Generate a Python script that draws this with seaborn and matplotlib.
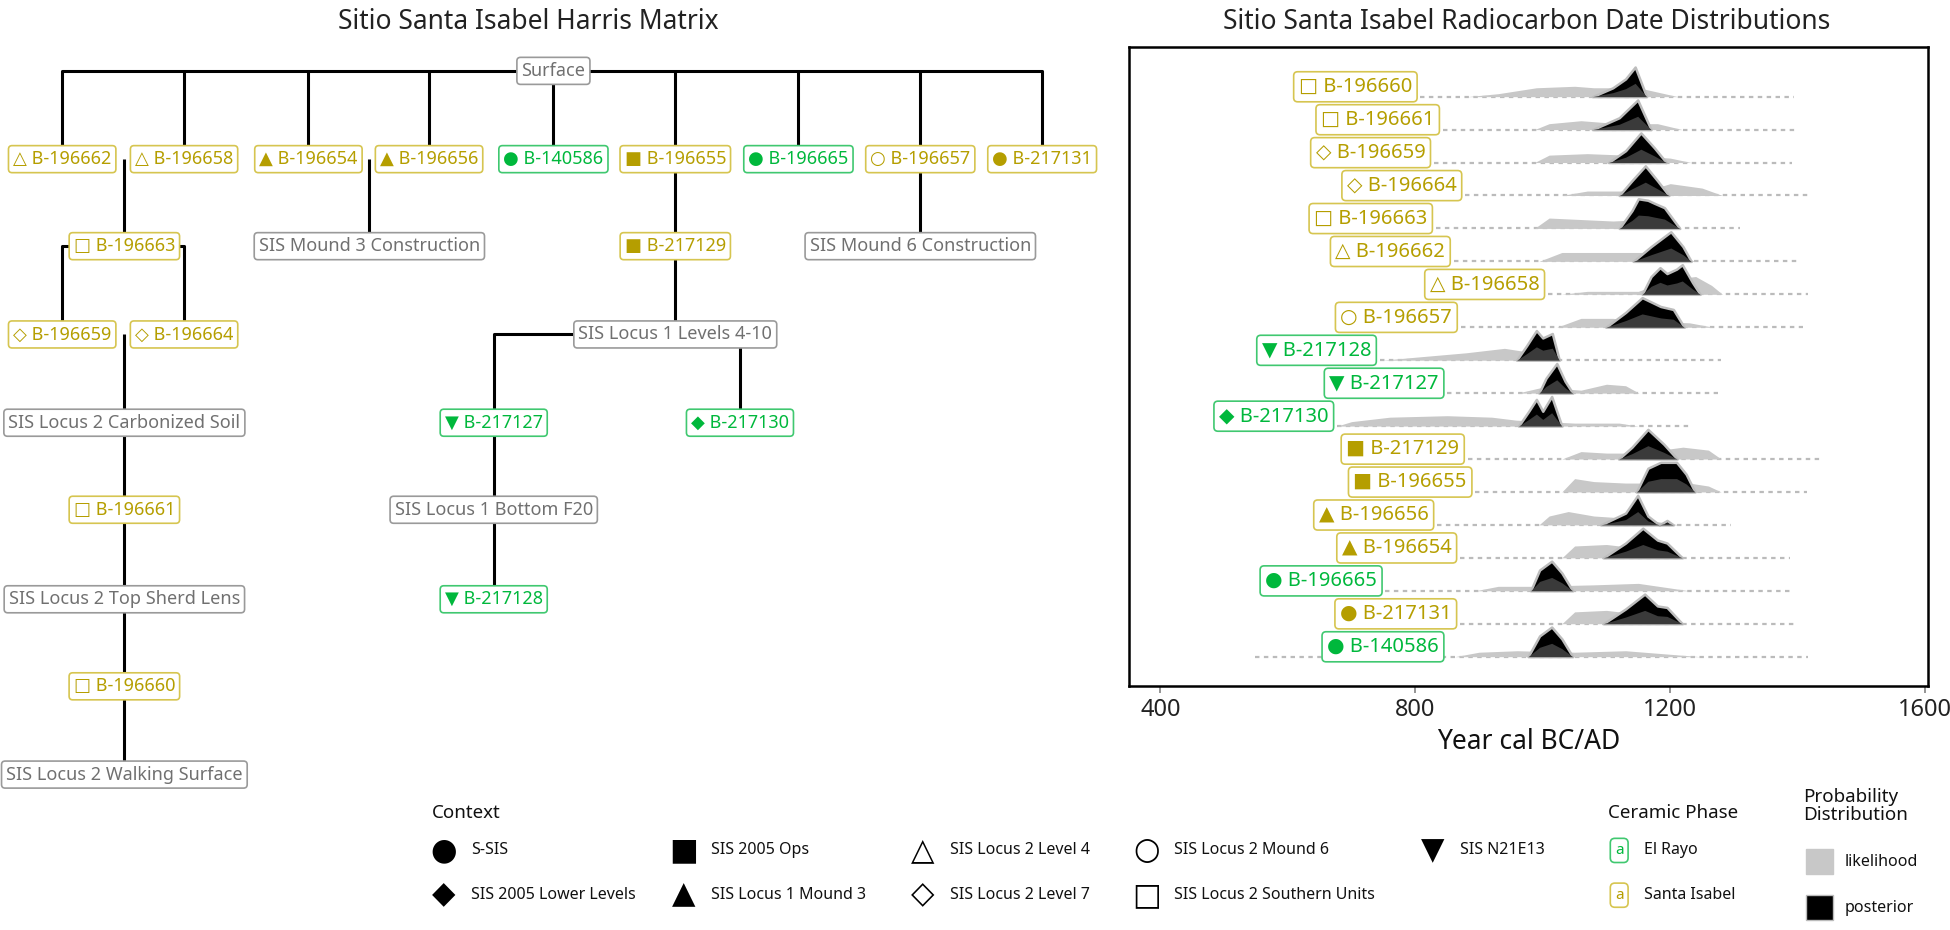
import matplotlib
matplotlib.use("Agg")
import matplotlib.pyplot as plt
import seaborn as sns
import numpy as np
import pandas as pd

sns.set_theme(style="white")
plt.rcParams['font.family'] = ['Noto Sans', 'DejaVu Sans']

YEL = "#B59E00"; YEL_E = "#D6C550"
GRN = "#00B83C"; GRN_E = "#40C870"
GRY = "#707070"; GRY_E = "#9A9A9A"
SYM = {"S-SIS": "●", "SIS 2005 Ops": "■", "SIS Locus 2 Level 4": "△", "SIS Locus 2 Mound 6": "○",
       "SIS N21E13": "▼", "SIS 2005 Lower Levels": "◆", "SIS Locus 1 Mound 3": "▲",
       "SIS Locus 2 Level 7": "◇", "SIS Locus 2 Southern Units": "□"}

# ---- radiocarbon data (top to bottom) ----
samples = ["B-196660", "B-196661", "B-196659", "B-196664", "B-196663", "B-196662", "B-196658", "B-196657",
           "B-217128", "B-217127", "B-217130", "B-217129", "B-196655", "B-196656", "B-196654", "B-196665",
           "B-217131", "B-140586"]
phase = ["SI", "SI", "SI", "SI", "SI", "SI", "SI", "SI", "ER", "ER", "ER", "SI", "SI", "SI", "SI", "ER", "SI", "ER"]
context = ["SIS Locus 2 Southern Units", "SIS Locus 2 Southern Units", "SIS Locus 2 Level 7", "SIS Locus 2 Level 7",
           "SIS Locus 2 Southern Units", "SIS Locus 2 Level 4", "SIS Locus 2 Level 4", "SIS Locus 2 Mound 6",
           "SIS N21E13", "SIS N21E13", "SIS 2005 Lower Levels", "SIS 2005 Ops", "SIS 2005 Ops",
           "SIS Locus 1 Mound 3", "SIS Locus 1 Mound 3", "S-SIS", "S-SIS", "S-SIS"]
range_start = [808, 843, 829, 878, 832, 860, 1008, 871, 744, 850, 677, 882, 894, 834, 870, 753, 870, 548]
range_end = [1395, 1400, 1391, 1419, 1310, 1400, 1416, 1409, 1279, 1275, 1235, 1440, 1414, 1296, 1388, 1388, 1398, 1416]
label_right = [808, 843, 829, 878, 832, 860, 1008, 871, 744, 850, 677, 882, 894, 834, 870, 753, 870, 850]
posterior = [
    [(1078, 0), (1110, .3), (1130, .6), (1145, 1), (1163, 0)],
    [(1078, 0), (1120, .4), (1149, 1), (1170, 0)],
    [(1103, 0), (1130, .4), (1154, 1), (1175, .5), (1194, 0)],
    [(1120, 0), (1140, .5), (1161, 1), (1180, .5), (1198, 0)],
    [(1120, 0), (1140, .6), (1150, 1), (1165, .95), (1175, .85), (1191, .7), (1215, 0)],
    [(1142, 0), (1170, .5), (1201, 1), (1220, .5), (1233, 0)],
    [(1156, 0), (1170, .6), (1184, .9), (1195, .7), (1210, .85), (1219, 1), (1235, .4), (1247, 0)],
    [(1099, 0), (1130, .5), (1156, 1), (1185, .7), (1205, .6), (1222, 0)],
    [(959, 0), (975, .5), (990, 1), (1000, .75), (1015, .9), (1026, 0)],
    [(994, 0), (1005, .5), (1022, 1), (1035, .4), (1047, 0)],
    [(962, 0), (978, .5), (990, .9), (1000, .5), (1014, 1), (1030, 0)],
    [(1119, 0), (1140, .4), (1165, 1), (1190, .5), (1211, 0)],
    [(1147, 0), (1165, .8), (1185, 1), (1210, 1), (1225, .6), (1239, 0)],
    [(1091, 0), (1130, .4), (1149, 1), (1165, .3), (1183, 0), (1195, .15), (1205, 0)],
    [(1095, 0), (1130, .5), (1157, 1), (1180, .6), (1195, .5), (1219, 0)],
    [(981, 0), (995, .7), (1014, 1), (1030, .6), (1047, 0)],
    [(1095, 0), (1130, .5), (1160, 1), (1180, .6), (1195, .55), (1219, 0)],
    [(977, 0), (995, .7), (1014, 1), (1030, .6), (1047, 0)],
]
likelihood = [
    [(881, 0), (930, .1), (990, .3), (1050, .35), (1080, .3), (1150, .3), (1212, 0)],
    [(987, 0), (1010, .2), (1060, .3), (1120, .2), (1180, .2), (1219, 0)],
    [(987, 0), (1010, .25), (1070, .3), (1130, .25), (1200, .15), (1233, 0)],
    [(1029, 0), (1070, .15), (1120, .15), (1170, .2), (1200, .4), (1250, .25), (1282, 0)],
    [(987, 0), (1010, .35), (1060, .3), (1110, .25), (1160, .3), (1212, 0)],
    [(994, 0), (1030, .3), (1100, .3), (1160, .3), (1210, .2), (1240, 0)],
    [(1029, 0), (1070, .1), (1150, .1), (1200, .5), (1240, .6), (1265, .3), (1282, 0)],
    [(1022, 0), (1060, .3), (1110, .3), (1160, .2), (1230, .15), (1268, 0)],
    [(748, 0), (800, .1), (880, .25), (940, .4), (1000, .2), (1029, 0)],
    [(960, 0), (1000, .2), (1060, .1), (1100, .3), (1130, .25), (1151, 0)],
    [(677, 0), (700, .15), (760, .3), (850, .35), (920, .3), (958, .2), (1050, .1), (1120, .1), (1150, 0)],
    [(1030, 0), (1060, .25), (1100, .2), (1150, .2), (1220, .4), (1260, .3), (1280, 0)],
    [(1030, 0), (1050, .45), (1080, .35), (1130, .3), (1230, .3), (1260, .2), (1280, 0)],
    [(994, 0), (1010, .3), (1040, .45), (1080, .3), (1150, .2), (1215, 0)],
    [(1030, 0), (1050, .4), (1100, .45), (1160, .3), (1223, 0)],
    [(894, 0), (930, .15), (980, .15), (1080, .2), (1150, .25), (1230, 0)],
    [(1030, 0), (1050, .4), (1100, .45), (1160, .3), (1223, 0)],
    [(862, 0), (900, .15), (960, .2), (1050, .15), (1130, .2), (1247, 0)],
]
x_ticks = [400, 800, 1200, 1600]

# ---- Harris matrix ----
tree_nodes = {
    "Surface": (445, 57, "G"),
    "B-196662": (50, 128, "SI"), "B-196658": (148, 128, "SI"), "B-196654": (248, 128, "SI"),
    "B-196656": (345, 128, "SI"), "B-140586": (445, 128, "ER"), "B-196655": (543, 128, "SI"),
    "B-196665": (642, 128, "ER"), "B-196657": (740, 128, "SI"), "B-217131": (838, 128, "SI"),
    "B-196663": (100, 198, "SI"), "SIS Mound 3 Construction": (297, 198, "G"),
    "B-217129": (543, 198, "SI"), "SIS Mound 6 Construction": (740, 198, "G"),
    "B-196659": (50, 269, "SI"), "B-196664": (148, 269, "SI"), "SIS Locus 1 Levels 4-10": (543, 269, "G"),
    "SIS Locus 2 Carbonized Soil": (100, 340, "G"), "B-217127": (397, 340, "ER"), "B-217130": (595, 340, "ER"),
    "B-196661": (100, 410, "SI"), "SIS Locus 1 Bottom F20": (397, 410, "G"),
    "SIS Locus 2 Top Sherd Lens": (100, 482, "G"), "B-217128": (397, 482, "ER"),
    "B-196660": (100, 552, "SI"), "SIS Locus 2 Walking Surface": (100, 623, "G"),
}
tree_lines = [
    [(50, 128), (50, 57), (838, 57), (838, 128)],
    [(148, 57), (148, 128)], [(248, 57), (248, 128)], [(345, 57), (345, 128)], [(445, 57), (445, 128)],
    [(543, 57), (543, 269)], [(642, 57), (642, 128)], [(740, 57), (740, 198)],
    [(100, 128), (100, 198)], [(297, 128), (297, 198)],
    [(50, 269), (50, 198), (148, 198), (148, 269)], [(100, 269), (100, 623)],
    [(397, 482), (397, 269), (595, 269), (595, 340)],
]

fig = plt.figure(figsize=(19.5, 9.3), dpi=100)
bg = fig.add_axes([0, 0, 1, 1])
bg.set_xlim(0, 1568); bg.set_ylim(748, 0); bg.axis("off")

def col(p):
    return {"SI": (YEL, YEL_E), "ER": (GRN, GRN_E), "G": (GRY, GRY_E)}[p]

ctx_of = dict(zip(samples, context))
for seg in tree_lines:
    xs, ys = zip(*seg)
    bg.plot(xs, ys, color="black", lw=2.2, zorder=1, solid_capstyle="butt")
for name, (x, y, p) in tree_nodes.items():
    c, e = col(p)
    lab = f"{SYM[ctx_of[name]]} {name}" if name in ctx_of else name
    bg.text(x, y, lab, ha="center", va="center", color=c, fontsize=13, zorder=3,
            bbox=dict(boxstyle="round,pad=0.25,rounding_size=0.2", fc="white", ec=e, lw=1.2))

bg.text(425, 18, "Sitio Santa Isabel Harris Matrix", ha="center", va="center", fontsize=19, color="#222222")
bg.text(1228, 18, "Sitio Santa Isabel Radiocarbon Date Distributions", ha="center", va="center",
        fontsize=19, color="#222222")

# legend: Context
bg.text(347, 654, "Context", ha="left", va="center", fontsize=13.5, color="#111111")
leg_ctx = [("S-SIS", 357, 684), ("SIS 2005 Ops", 550, 684), ("SIS Locus 2 Level 4", 742, 684),
           ("SIS Locus 2 Mound 6", 922, 684), ("SIS N21E13", 1152, 684),
           ("SIS 2005 Lower Levels", 357, 720), ("SIS Locus 1 Mound 3", 550, 720),
           ("SIS Locus 2 Level 7", 742, 720), ("SIS Locus 2 Southern Units", 922, 720)]
for name, x, y in leg_ctx:
    bg.text(x, y, SYM[name], ha="center", va="center", fontsize=22, color="black",
            family=["DejaVu Sans"])
    bg.text(x + 22, y, name, ha="left", va="center", fontsize=11.5, color="#111111")
# Ceramic phase
bg.text(1293, 654, "Ceramic Phase", ha="left", va="center", fontsize=13.5, color="#111111")
for lab, p, y in [("El Rayo", "ER", 684), ("Santa Isabel", "SI", 720)]:
    c, e = col(p)
    bg.text(1302, y, "a", ha="center", va="center", color=c, fontsize=11,
            bbox=dict(boxstyle="round,pad=0.3", fc="white", ec=e, lw=1.2))
    bg.text(1322, y, lab, ha="left", va="center", fontsize=11.5, color="#111111")
# Probability distribution
bg.text(1450, 648, "Probability\nDistribution", ha="left", va="center", fontsize=13.5, color="#111111",
        linespacing=1.0)
bg.add_patch(plt.Rectangle((1452, 683), 22, 20, fc="#C8C8C8", ec="#C8C8C8"))
bg.add_patch(plt.Rectangle((1452, 720), 22, 20, fc="black", ec="#BBBBBB"))
bg.text(1483, 693, "likelihood", ha="left", va="center", fontsize=11.5, color="#111111")
bg.text(1483, 730, "posterior", ha="left", va="center", fontsize=11.5, color="#111111")

# ---- right panel ----
ax = fig.add_axes([908 / 1568, 1 - 552 / 748, 642 / 1568, 514 / 748])
H = 0.9
for i, s in enumerate(samples):
    base = pd.DataFrame({"year": [range_start[i], range_end[i]], "y": [i, i]})
    sns.lineplot(data=base, x="year", y="y", ax=ax, color="#BBBBBB", lw=1.6, linestyle=(0, (2, 2)),
                 zorder=1, estimator=None)
    lx, lh = zip(*likelihood[i])
    ax.fill_between(lx, i, i - np.array(lh) * H, color="#C8C8C8", lw=0, zorder=2)
    px, ph = zip(*posterior[i])
    ph = np.array(ph)
    ax.fill_between(px, i, i - ph * H, color="black", ec="#BDBDBD", lw=1.8, zorder=3)
    ax.fill_between(px, i, i - ph * H * 0.45, color="#3A3A3A", lw=0, zorder=3.5)
    c, e = col(phase[i])
    ax.annotate(f"{SYM[context[i]]} {s}", xy=(label_right[i], i - 0.3), xytext=(-6, 0),
                textcoords="offset points", ha="right", va="center", color=c, fontsize=14.5, zorder=5,
                bbox=dict(boxstyle="round,pad=0.25,rounding_size=0.2", fc="white", ec=e, lw=1.2))

ax.set_xlim(351, 1604)
ax.set_ylim(17.9, -1.5)
ax.set_yticks([])
ax.set_xticks(x_ticks)
ax.set_xticklabels([str(t) for t in x_ticks], fontsize=17, color="#222222")
ax.tick_params(axis="x", length=5, color="#888888", bottom=True)
ax.set_xlabel("Year cal BC/AD", fontsize=19, color="#111111", labelpad=4)
ax.set_ylabel("")
for sp in ax.spines.values():
    sp.set_color("black"); sp.set_linewidth(1.8)

fig.savefig("out.png", dpi=100)
